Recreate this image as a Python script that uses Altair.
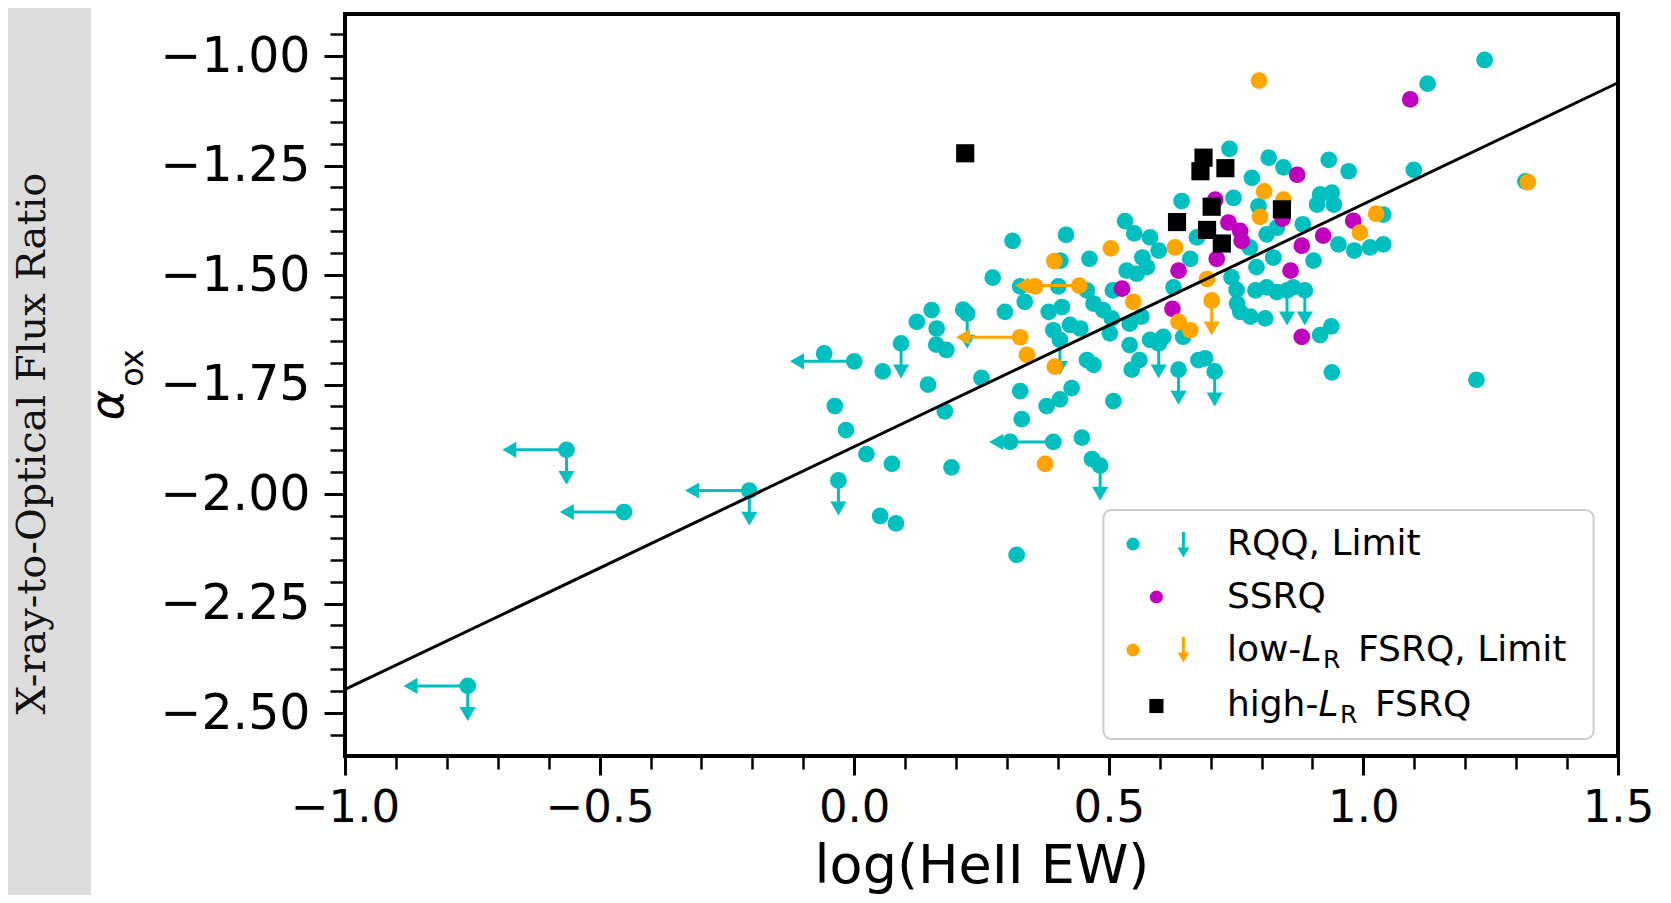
import altair as alt
import pandas as pd

# ---------------- data ----------------
# RQQ detections
rqq_x = [-0.059, 0.056, 0.123, 0.152, 0.162, 0.161, 0.145, -0.038, -0.016, 0.024, 0.074, 0.051, 0.082,
         0.191, 0.306, 0.447, 0.467, 0.319, 0.311, 0.416, 0.532, 0.550, 0.405, 0.462, 0.272, 0.326,
         0.401, 0.508, 0.566, 0.535, 0.555, 0.214, 0.181, 0.296, 0.335, 0.382, 0.408, 0.457, 0.470,
         0.489, 0.506, 0.391, 0.424, 0.444, 0.457, 0.470, 0.502, 0.541, 0.541, 0.560, 0.545, 0.250,
         0.326, 0.378, 0.404, 0.427, 0.329, 0.178, 0.509, 0.737, 0.814, 0.843, 0.932, 0.971, 0.781,
         0.643, 0.745, 0.915, 0.938, 0.909, 0.942, 0.794, 0.581, 0.598, 0.575, 0.660, 0.673, 0.777,
         0.810, 0.830, 0.823, 0.790, 0.902, 0.951, 0.982, 1.013, 1.039, 0.881, 0.741, 0.751, 0.810,
         0.862, 0.627, 0.752, 0.758, 0.778, 0.807, 0.788, 0.915, 0.937, 0.938, 0.564, 0.581, 0.607,
         0.646, 0.676, 0.689, 1.238, 1.126, 1.099, 1.318, 1.222, 1.039, 0.830]
rqq_y = [-1.679, -1.720, -1.607, -1.580, -1.622, -1.659, -1.750, -1.799, -1.854, -1.909, -1.931, -2.050, -2.067,
         -1.939, -1.881, -1.871, -1.920, -2.139, -1.422, -1.408, -1.377, -1.405, -1.467, -1.463, -1.506, -1.526,
         -1.526, -1.535, -1.460, -1.490, -1.497, -1.579, -1.671, -1.584, -1.561, -1.584, -1.573, -1.535, -1.565,
         -1.580, -1.599, -1.626, -1.614, -1.622, -1.694, -1.705, -1.633, -1.611, -1.660, -1.694, -1.716, -1.735,
         -1.765, -1.799, -1.784, -1.758, -1.829, -1.811, -1.788, -1.212, -1.232, -1.254, -1.237, -1.263, -1.278,
         -1.331, -1.324, -1.316, -1.312, -1.339, -1.339, -1.343, -1.414, -1.444, -1.482, -1.463, -1.414, -1.437,
         -1.407, -1.392, -1.460, -1.482, -1.467, -1.430, -1.444, -1.437, -1.430, -1.384, -1.505, -1.534, -1.528,
         -1.528, -1.528, -1.565, -1.584, -1.595, -1.599, -1.535, -1.637, -1.617, -1.722, -1.595, -1.648, -1.641,
         -1.641, -1.694, -1.690, -1.009, -1.063, -1.260, -1.286, -1.739, -1.362, -1.539]
# RQQ upper limits in alpha_ox (down arrows)
rqq_down_x = [0.092, -0.031, 0.222, 0.483, 0.850, 0.885, 0.598, 0.637, 0.708, 0.404]
rqq_down_y = [-1.656, -1.969, -1.588, -1.935, -1.535, -1.535, -1.656, -1.716, -1.720, -1.648]
# RQQ upper limits in HeII EW (left arrows)
rqq_left_x = [-0.452, 0.000, 0.391]
rqq_left_y = [-2.041, -1.697, -1.881]
# RQQ upper limits in both
rqq_both_x = [-0.565, -0.206, -0.759]
rqq_both_y = [-1.899, -1.992, -2.438]

# SSRQ
ssrq_x = [0.526, 0.870, 0.709, 0.735, 0.758, 0.761, 0.712, 0.879, 0.921, 0.980, 0.857, 0.637, 0.625,
          0.879, 1.092, 0.841]
ssrq_y = [-1.531, -1.271, -1.328, -1.380, -1.399, -1.422, -1.463, -1.433, -1.410, -1.376, -1.490, -1.490,
          -1.577, -1.641, -1.099, -1.371]

# low-L_R FSRQ
lfsrq_x = [0.795, 1.323, 0.504, 0.393, 0.355, 0.339, 0.394, 0.548, 0.375, 0.805, 0.843, 0.797, 1.025,
           0.993, 0.630, 0.693, 0.637, 0.660]
lfsrq_y = [-1.056, -1.288, -1.439, -1.468, -1.526, -1.682, -1.709, -1.561, -1.931, -1.309, -1.328, -1.367,
           -1.360, -1.403, -1.437, -1.509, -1.607, -1.626]
lfsrq_down_x = [0.702]
lfsrq_down_y = [-1.558]
lfsrq_left_x = [0.442, 0.326]
lfsrq_left_y = [-1.524, -1.642]

# high-L_R FSRQ
hfsrq_x = [0.218, 0.686, 0.680, 0.729, 0.702, 0.634, 0.693, 0.722, 0.840]
hfsrq_y = [-1.222, -1.232, -1.263, -1.256, -1.344, -1.379, -1.397, -1.428, -1.350]

# best-fit line
fit_x = [-1.0, 1.5]
fit_y = [-2.446, -1.061]

x_major = [-1.0, -0.5, 0.0, 0.5, 1.0, 1.5]
y_major = [-2.5, -2.25, -2.0, -1.75, -1.5, -1.25, -1.0]
x_minor = [round(-1.0 + 0.1 * i, 2) for i in range(26)]
y_minor = [round(-2.55 + 0.05 * i, 2) for i in range(33)]

# ---------------- layout / style ----------------
XDOM = [-1.0, 1.5]
YDOM = [-2.598, -0.904]
W, H = 1273, 742
PADL, PADT = 337, 6
OX, OY = 8 + PADL, 8 + PADT               # page position of the plot origin
TEAL, MAG, ORG, BLK = "#00bfbf", "#bf00bf", "#ffa500", "#000000"
GRAY = "#dcdcdc"
ALEN_X, ALEN_Y = 0.126, 0.080          # arrow lengths in data units
HEAD = 260                                # arrow head symbol size
HEAD_H = 0.433 * HEAD ** 0.5              # half height of arrow head (px)
XOFF = HEAD_H * (XDOM[1] - XDOM[0]) / W
YOFF = HEAD_H * (YDOM[1] - YDOM[0]) / H

xs = alt.Scale(domain=XDOM, nice=False, zero=False)
ys = alt.Scale(domain=YDOM, nice=False, zero=False)
FONT = "DejaVu Sans"


def pts(xv, yv, grp):
    return pd.DataFrame({"x": xv, "y": yv, "g": grp})


def arrows(xv, yv, grp, kind):
    rows_r, rows_h = [], []
    for a, b in zip(xv, yv):
        if kind in ("left", "both"):
            tip = a - ALEN_X
            rows_r.append({"x": a, "x2": tip + XOFF, "y": b, "y2": b, "g": grp})
            rows_h.append({"x": tip + XOFF, "y": b, "s": "left", "g": grp})
        if kind in ("down", "both"):
            tip = b - ALEN_Y
            rows_r.append({"x": a, "x2": a, "y": b, "y2": tip + YOFF, "g": grp})
            rows_h.append({"x": a, "y": tip + YOFF, "s": "down", "g": grp})
    return rows_r, rows_h


cscale = alt.Scale(domain=["RQQ", "SSRQ", "lFSRQ", "hFSRQ"], range=[TEAL, MAG, ORG, BLK])
sscale = alt.Scale(domain=["left", "down"], range=["triangle-left", "triangle-down"])

teal_pts = pd.concat([pts(rqq_x, rqq_y, "RQQ"), pts(rqq_down_x, rqq_down_y, "RQQ"),
                      pts(rqq_left_x, rqq_left_y, "RQQ"), pts(rqq_both_x, rqq_both_y, "RQQ")])
org_pts = pd.concat([pts(lfsrq_x, lfsrq_y, "lFSRQ"), pts(lfsrq_down_x, lfsrq_down_y, "lFSRQ"),
                     pts(lfsrq_left_x, lfsrq_left_y, "lFSRQ")])
mag_pts = pts(ssrq_x, ssrq_y, "SSRQ")
blk_pts = pts(hfsrq_x, hfsrq_y, "hFSRQ")

tr, th = [], []
for xv, yv, k in [(rqq_down_x, rqq_down_y, "down"), (rqq_left_x, rqq_left_y, "left"),
                  (rqq_both_x, rqq_both_y, "both")]:
    r, h = arrows(xv, yv, "RQQ", k)
    tr += r
    th += h
orr, oh = [], []
for xv, yv, k in [(lfsrq_down_x, lfsrq_down_y, "down"), (lfsrq_left_x, lfsrq_left_y, "left")]:
    r, h = arrows(xv, yv, "lFSRQ", k)
    orr += r
    oh += h

X = lambda **kw: alt.X("x:Q", scale=xs, axis=None, **kw)
Y = lambda **kw: alt.Y("y:Q", scale=ys, axis=None, **kw)


def circles(df, size=280):
    return alt.Chart(df).mark_circle(size=size, opacity=1).encode(
        x=X(), y=Y(), color=alt.Color("g:N", scale=cscale, legend=None))


def arrow_layers(rows_r, rows_h):
    rd = pd.DataFrame(rows_r)
    hd = pd.DataFrame(rows_h)
    rule = alt.Chart(rd).mark_rule(strokeWidth=3).encode(
        x=X(), x2="x2:Q", y=Y(), y2="y2:Q", color=alt.Color("g:N", scale=cscale, legend=None))
    head = alt.Chart(hd).mark_point(filled=True, size=HEAD, opacity=1, strokeWidth=0).encode(
        x=X(), y=Y(), shape=alt.Shape("s:N", scale=sscale, legend=None),
        color=alt.Color("g:N", scale=cscale, legend=None))
    return [rule, head]


# axes (major + minor) on invisible layers
axis_df = pd.DataFrame({"x": fit_x, "y": fit_y})
major = alt.Chart(axis_df).mark_point(opacity=0).encode(
    x=alt.X("x:Q", scale=xs, axis=alt.Axis(
        orient="bottom", values=x_major, format=".1f", title="log(HeII EW)", titleFont=FONT,
        titleFontSize=54, titleFontWeight="normal", titleColor="black", titleBaseline="alphabetic",
        titleY=882 - (OY + H), labelFont=FONT, labelFontSize=45, labelColor="black", labelPadding=10,
        labelOverlap=False, labelFlush=False, tickSize=19, tickWidth=3, tickColor="black",
        domain=False, grid=False)),
    y=alt.Y("y:Q", scale=ys, axis=alt.Axis(
        orient="left", values=y_major, format=".2f", title=None,
        labelFont=FONT, labelFontSize=49, labelColor="black", labelPadding=14, labelOverlap=False,
        labelFlush=False, tickSize=21, tickWidth=3, tickColor="black", domain=False, grid=False)),
)
minor = alt.Chart(axis_df).mark_point(opacity=0).encode(
    x=alt.X("x:Q", scale=xs, axis=alt.Axis(
        orient="bottom", values=x_minor, labels=False, title=None, tickSize=13, tickWidth=2.5,
        tickColor="black", domain=False, grid=False)),
    y=alt.Y("y:Q", scale=ys, axis=alt.Axis(
        orient="left", values=y_minor, labels=False, title=None, tickSize=15, tickWidth=2.5,
        tickColor="black", domain=False, grid=False)),
)

fit = alt.Chart(pd.DataFrame({"x": fit_x, "y": fit_y})).mark_line(
    color="black", strokeWidth=3).encode(x=X(), y=Y())

ONE = pd.DataFrame({"k": [0]})


def txt(s, x, y, size, font=FONT, **kw):
    return alt.Chart(ONE).mark_text(font=font, fontSize=size, **kw).encode(
        x=alt.value(x), y=alt.value(y), text=alt.value(s))


def sym(x, y, color, shape="circle", size=170):
    return alt.Chart(ONE).mark_point(filled=True, shape=shape, size=size, color=color,
                                     opacity=1, strokeWidth=0).encode(
        x=alt.value(x), y=alt.value(y))


def vrule(x, y1, y2, color):
    return alt.Chart(ONE).mark_rule(color=color, strokeWidth=3).encode(
        x=alt.value(x), y=alt.value(y1), y2=alt.value(y2))


# page coordinates -> plot-relative coordinates
px = lambda v: v - OX
py = lambda v: v - OY

panel = alt.Chart(ONE).mark_rect(color=GRAY).encode(
    x=alt.value(-PADL), x2=alt.value(px(91)), y=alt.value(-PADT), y2=alt.value(900))

side_title = txt("X-ray-to-Optical Flux Ratio", px(45), py(443.5), 40, font="DejaVu Serif",
                 angle=270, align="center", baseline="alphabetic", color="#111111")
alpha = txt("α", px(123), py(405), 46, angle=270, align="center", baseline="alphabetic",
            fontStyle="italic", color="black")
alpha_sub = txt("ox", px(143), py(368), 32, angle=270, align="center", baseline="alphabetic",
                color="black")

# legend (drawn by hand)
legend_box = alt.Chart(ONE).mark_rect(fill="white", fillOpacity=0.85, stroke="#cccccc",
                                      strokeWidth=2, cornerRadius=8).encode(
    x=alt.value(px(1103.4)), x2=alt.value(px(1593.6)), y=alt.value(py(510)), y2=alt.value(py(739)))
TX = px(1226.9)
LFS = 36
SFS = 25
DX, DX2, AX = px(1133), px(1156.4), px(1183.4)
R1, R2, R3, R4 = 555, 608, 661, 716            # page baselines of the legend rows
legend = [
    legend_box,
    sym(DX, py(R1 - 11), TEAL),
    vrule(AX, py(R1 - 23), py(R1 - 4), TEAL),
    sym(AX, py(R1 - 2.5), TEAL, "triangle-down", 140),
    txt("RQQ, Limit", TX, py(R1), LFS, align="left", baseline="alphabetic", color="black"),
    sym(DX2, py(R2 - 11), MAG),
    txt("SSRQ", TX, py(R2), LFS, align="left", baseline="alphabetic", color="black"),
    sym(DX, py(R3 - 11), ORG),
    vrule(AX, py(R3 - 24), py(R3 - 5), ORG),
    sym(AX, py(R3 - 3.5), ORG, "triangle-down", 140),
    txt("low-", TX, py(R3), LFS, align="left", baseline="alphabetic", color="black"),
    txt("L", TX + 2.069 * LFS, py(R3), LFS, align="left", baseline="alphabetic", fontStyle="italic",
        color="black"),
    txt("R", TX + 2.069 * LFS + 0.6 * LFS, py(R3 + 7), SFS, align="left", baseline="alphabetic",
        color="black"),
    txt("FSRQ, Limit", px(1358), py(R3), LFS, align="left", baseline="alphabetic", color="black"),
    sym(DX2, py(R4 - 10), BLK, "square", 200),
    txt("high-", TX, py(R4), LFS, align="left", baseline="alphabetic", color="black"),
    txt("L", TX + 2.542 * LFS, py(R4), LFS, align="left", baseline="alphabetic", fontStyle="italic",
        color="black"),
    txt("R", TX + 2.542 * LFS + 0.6 * LFS, py(R4 + 7), SFS, align="left", baseline="alphabetic",
        color="black"),
    txt("FSRQ", px(1375), py(R4), LFS, align="left", baseline="alphabetic", color="black"),
]

layers = [panel, side_title, alpha, alpha_sub, major, minor,
          circles(teal_pts)] + arrow_layers(tr, th) + [
          circles(mag_pts)] + [circles(org_pts)] + arrow_layers(orr, oh) + [
          alt.Chart(blk_pts).mark_square(size=330, opacity=1).encode(
              x=X(), y=Y(), color=alt.Color("g:N", scale=cscale, legend=None)),
          fit] + legend

chart = alt.layer(*layers).resolve_axis(x="independent", y="independent").properties(
    width=W, height=H,
    padding={"left": PADL, "top": PADT, "right": 45, "bottom": 887 - PADT - H},
    autosize=alt.AutoSizeParams(type="none"),
    background="white",
).configure_view(stroke="black", strokeWidth=4)

chart.save("out.html", embed_options={"renderer": "svg", "actions": False})
